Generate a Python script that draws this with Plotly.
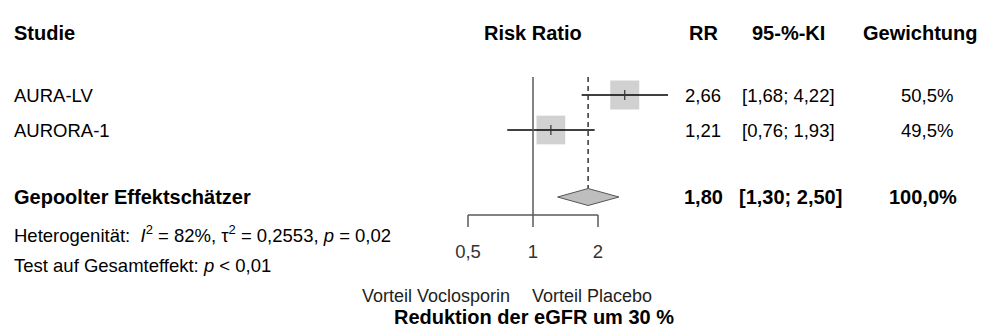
import numpy as np
import plotly.graph_objects as go

# ---------------- data ----------------
studies = ["AURA-LV", "AURORA-1"]
rr = [2.66, 1.21]
ci_low = [1.68, 0.76]
ci_high = [4.22, 1.93]
weights = [50.5, 49.5]
rr_text = ["2,66", "1,21"]
ci_text = ["[1,68; 4,22]", "[0,76; 1,93]"]
w_text = ["50,5%", "49,5%"]

pooled_label = "Gepoolter Effektschätzer"
pooled_rr = 1.80
pooled_low = 1.30
pooled_high = 2.50
pooled_rr_text = "1,80"
pooled_ci_text = "[1,30; 2,50]"
pooled_w_text = "100,0%"

tick_vals = [0.5, 1, 2]
tick_text = ["0,5", "1", "2"]

headers = ["Studie", "Risk Ratio", "RR", "95-%-KI", "Gewichtung"]
het_text = "Heterogenität:  <i>I</i><sup>2</sup> = 82%, τ<sup>2</sup> = 0,2553, <i>p</i> = 0,02"
test_text = "Test auf Gesamteffekt: <i>p</i> &lt; 0,01"
label_left = "Vorteil Voclosporin"
label_right = "Vorteil Placebo"
x_title = "Reduktion der eGFR um 30 %"

# ---------------- layout helpers ----------------
W, H = 984, 330
PX_PER_DECADE = 65 / np.log10(2)
X0_PX = 533  # pixel of RR = 1
r0 = -X0_PX / PX_PER_DECADE
r1 = r0 + W / PX_PER_DECADE

ROW_PX = 35
ROW1_PX = 95
def row_of(px):
    return 1 + (px - ROW1_PX) / ROW_PX
y_top = row_of(0)
y_bot = row_of(H)

study_rows = [1, 2]
pooled_row = row_of(197)
header_row = row_of(33)
het_row = row_of(234)
test_row = row_of(265)
axis_row = row_of(215)
tick_bottom_row = row_of(227)
ticklab_row = row_of(253)
lab_row = row_of(295.5)
title_row = row_of(317)
line_top_row = row_of(77)
diamond_half = 8.5 / ROW_PX

FONT = "Liberation Sans, Arial, sans-serif"
FS = 18.5
FSB = 20
GRAY_FILL = "#BEBEBE"
AXIS_COL = "#5a5a5a"

fig = go.Figure()

# squares
sizes = [29 * np.sqrt(w / max(weights)) for w in weights]
fig.add_trace(go.Scatter(
    x=rr, y=study_rows, mode="markers",
    marker=dict(symbol="square", size=sizes, color=GRAY_FILL, line=dict(width=0)),
    hoverinfo="skip", showlegend=False))

# confidence interval lines
for lo, hi, r in zip(ci_low, ci_high, study_rows):
    fig.add_trace(go.Scatter(
        x=[lo, hi], y=[r, r], mode="lines",
        line=dict(color="black", width=1.3),
        hoverinfo="skip", showlegend=False))

# centre ticks
fig.add_trace(go.Scatter(
    x=rr, y=study_rows, mode="markers",
    marker=dict(symbol="line-ns-open", size=7, color="#333333",
                line=dict(color="#333333", width=1.2)),
    hoverinfo="skip", showlegend=False))

# null line
fig.add_trace(go.Scatter(
    x=[1, 1], y=[line_top_row, axis_row], mode="lines",
    line=dict(color=AXIS_COL, width=1.5), hoverinfo="skip", showlegend=False))

# pooled dashed line
fig.add_trace(go.Scatter(
    x=[pooled_rr, pooled_rr], y=[line_top_row, pooled_row - diamond_half], mode="lines",
    line=dict(color="#333333", width=1.5, dash="5px,4px"), hoverinfo="skip", showlegend=False))

# diamond
fig.add_trace(go.Scatter(
    x=[pooled_low, pooled_rr, pooled_high, pooled_rr, pooled_low],
    y=[pooled_row, pooled_row - diamond_half, pooled_row, pooled_row + diamond_half, pooled_row],
    mode="lines", fill="toself", fillcolor=GRAY_FILL,
    line=dict(color="#555555", width=1), hoverinfo="skip", showlegend=False))

# x axis (line + ticks)
ax_x = [tick_vals[0], tick_vals[-1], None]
ax_y = [axis_row, axis_row, None]
for t in tick_vals:
    ax_x += [t, t, None]
    ax_y += [axis_row, tick_bottom_row, None]
fig.add_trace(go.Scatter(
    x=ax_x, y=ax_y, mode="lines", line=dict(color=AXIS_COL, width=1.5),
    hoverinfo="skip", showlegend=False))

# tick labels
fig.add_trace(go.Scatter(
    x=tick_vals, y=[ticklab_row] * len(tick_vals), mode="text", text=tick_text,
    textfont=dict(family=FONT, size=FS, color="#333333"), textposition="middle center",
    hoverinfo="skip", showlegend=False))

ann = []
def add_text(txt, xpx, row, anchor="left", bold=False, size=None, color="black"):
    if size is None:
        size = FSB if bold else FS
    ann.append(dict(
        x=xpx / W, xref="paper", y=row, yref="y", text=(f"<b>{txt}</b>" if bold else txt),
        showarrow=False, xanchor=anchor, yanchor="middle",
        font=dict(family=FONT, size=size, color=color)))

# headers
add_text(headers[0], 12, header_row, "left", bold=True)
add_text(headers[1], 533, header_row, "center", bold=True)
add_text(headers[2], 703, header_row, "center", bold=True)
add_text(headers[3], 788, header_row, "center", bold=True)
add_text(headers[4], 920, header_row, "center", bold=True)

# study rows
for s, a, b, c, r in zip(studies, rr_text, ci_text, w_text, study_rows):
    add_text(s, 12, r, "left")
    add_text(a, 703, r, "center")
    add_text(b, 788, r, "center")
    add_text(c, 927, r, "center")

# pooled
add_text(pooled_label, 12, pooled_row, "left", bold=True)
add_text(pooled_rr_text, 703, pooled_row, "center", bold=True)
add_text(pooled_ci_text, 790, pooled_row, "center", bold=True)
add_text(pooled_w_text, 923, pooled_row, "center", bold=True)

# heterogeneity
add_text(het_text, 12, het_row, "left")
add_text(test_text, 12, test_row, "left")

# bottom labels
add_text(label_left, 512, lab_row, "right", color="#222222", size=18)
add_text(label_right, 530, lab_row, "left", color="#222222", size=18)
add_text(x_title, 534, title_row, "center", bold=True, size=20)

fig.update_layout(
    width=W, height=H, autosize=False,
    margin=dict(l=0, r=0, t=0, b=0),
    paper_bgcolor="white", plot_bgcolor="white",
    xaxis=dict(type="log", range=[r0, r1], visible=False, fixedrange=True),
    yaxis=dict(range=[y_bot, y_top], visible=False, fixedrange=True),
    annotations=ann, showlegend=False,
)

fig.write_html(
    "out.html",
    config={"displayModeBar": False, "staticPlot": True},
    post_script="document.body.style.margin='0';document.body.style.overflow='hidden';",
)
